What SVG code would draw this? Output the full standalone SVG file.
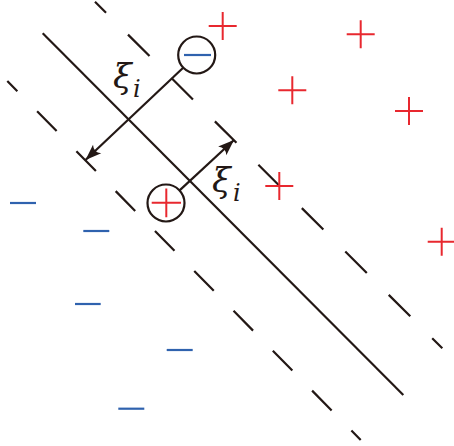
<svg xmlns="http://www.w3.org/2000/svg" width="454" height="446" viewBox="0 0 454 446">
<style>
.k{stroke:#231815;stroke-width:2.2;fill:none}
.r{stroke:#e8282f;stroke-width:2;fill:none}
.b{stroke:#2f62ae;stroke-width:2.2;fill:none}
.xi{font-family:"DejaVu Serif","Liberation Serif",serif;font-style:italic;fill:#231815}
</style>
<defs>
<marker id="ah" markerUnits="userSpaceOnUse" markerWidth="20" markerHeight="14" viewBox="-17 -7 20 14" refX="0" refY="0" orient="auto">
<path d="M0,0 L-16,-6 Q-11,0 -16,6 Z" fill="#231815"/>
</marker>
</defs>
<rect width="454" height="446" fill="#fff"/>
<g id="hyperplanes">
<line class="k" x1="42.7" y1="33.3" x2="403.3" y2="395"/>
<path class="k" d="M95,1.7 L442.3,348.3" stroke-dasharray="30.4 31" stroke-dashoffset="14.8"/>
<path class="k" d="M7.3,81 L360.7,440" stroke-dasharray="27.8 28.2" stroke-dashoffset="13.5"/>
</g>
<g id="plus-points">
<path class="r" d="M208.7,26h28M222.7,12v28"/>
<path class="r" d="M346.7,34.3h28M360.7,20.3v28"/>
<path class="r" d="M278.3,90.3h28M292.3,76.3v28"/>
<path class="r" d="M395,111h28M409,97v28"/>
<path class="r" d="M265.3,186h28M279.3,172v28"/>
<path class="r" d="M427.7,241.7h28M441.7,227.7v28"/>
</g>
<g id="minus-points">
<path class="b" d="M10,203h26"/>
<path class="b" d="M83.3,231h26"/>
<path class="b" d="M75,304h25.7"/>
<path class="b" d="M166.7,350h26"/>
<path class="b" d="M118.3,408.7h26"/>
</g>
<g id="node-minus">
<circle class="k" cx="196.7" cy="55" r="18.5"/>
<path class="b" d="M184,55h27"/>
</g>
<g id="node-plus">
<circle class="k" cx="166" cy="203" r="18.5"/>
<path class="r" d="M151.7,202.8h29.3M166.3,188.5v28.7"/>
</g>
<g id="connectors">
<line class="k" x1="183.2" y1="67.7" x2="85.5" y2="160" marker-end="url(#ah)"/>
<line class="k" x1="179.6" y1="190.4" x2="234" y2="140" marker-end="url(#ah)"/>
</g>
<g id="label-1">
<text class="xi" x="113" y="88" font-size="34">ξ</text>
<text class="xi" x="133" y="97" font-size="24">i</text>
</g>
<g id="label-2">
<text class="xi" x="212" y="192" font-size="34">ξ</text>
<text class="xi" x="233" y="201" font-size="24">i</text>
</g>
</svg>
